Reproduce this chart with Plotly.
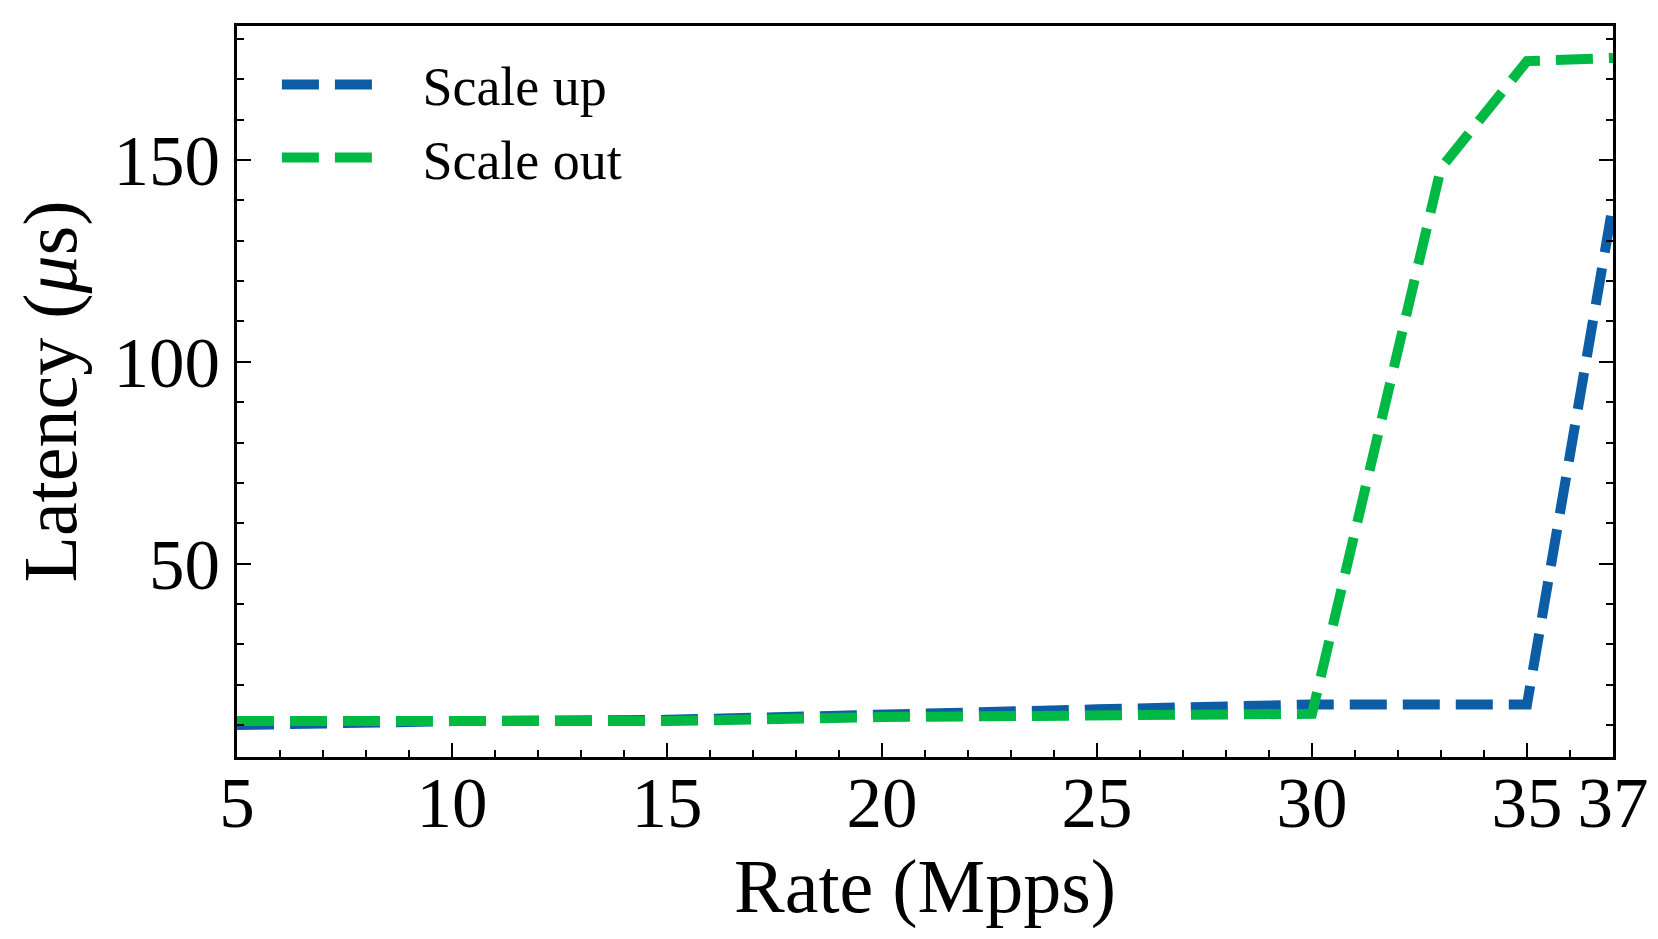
import plotly.graph_objects as go

rate = [5, 10, 15, 20, 25, 30, 33, 35, 37]
scale_up = [10.0, 11.0, 11.3, 12.8, 13.9, 15.1, 15.1, 15.1, 139.0]
scale_out = [11.0, 11.0, 11.0, 12.0, 12.3, 12.8, 148.0, 174.5, 175.3]
x_ticks = [5, 10, 15, 20, 25, 30, 35, 37]
y_ticks = [50, 100, 150]
series_names = ["Scale up", "Scale out"]

FONT = "Liberation Serif"
BLUE = "#0C5DA5"
GREEN = "#00B945"
PAD = "\u00a0\u00a0\u00a0"

fig = go.Figure()
fig.add_trace(go.Scatter(x=rate, y=scale_up, mode="lines", name=PAD + series_names[0],
                         line=dict(color=BLUE, width=10, dash="37px,16px")))
fig.add_trace(go.Scatter(x=rate, y=scale_out, mode="lines", name=PAD + series_names[1],
                         line=dict(color=GREEN, width=10, dash="37px,16px")))

fig.update_layout(
    width=1658, height=939,
    margin=dict(l=229, r=53, t=18, b=190),
    plot_bgcolor="white", paper_bgcolor="white",
    font=dict(family=FONT, color="black", size=70),
    showlegend=True,
    legend=dict(x=0.029, y=0.977, xanchor="left", yanchor="top",
                font=dict(size=54, family=FONT), bgcolor="rgba(0,0,0,0)",
                itemwidth=95, tracegroupgap=0),
)
fig.update_xaxes(
    range=[5, 37], tickvals=x_ticks, ticktext=[str(v) for v in x_ticks],
    showgrid=False, zeroline=False,
    showline=True, linecolor="black", linewidth=2.5, mirror=True,
    ticks="inside", ticklen=14, tickwidth=2, tickcolor="black",
    minor=dict(ticks="inside", dtick=1, tick0=5, ticklen=7, tickwidth=2, tickcolor="black"),
    tickfont=dict(size=71, family=FONT),
    ticklabelstandoff=-18,
    title=dict(text="Rate (Mpps)", font=dict(size=76, family=FONT), standoff=18),
)
fig.update_yaxes(
    range=[2.1, 183.2], tickvals=y_ticks,
    showgrid=False, zeroline=False,
    showline=True, linecolor="black", linewidth=2.5, mirror="allticks",
    ticks="inside", ticklen=14, tickwidth=2, tickcolor="black",
    minor=dict(ticks="inside", dtick=10, tick0=0, ticklen=7, tickwidth=2, tickcolor="black"),
    tickfont=dict(size=71, family=FONT),
    ticklabelstandoff=0,
    title=dict(text="Latency (<i>μ</i>s)", font=dict(size=76, family=FONT), standoff=26),
)

fig.write_html("out.html")
